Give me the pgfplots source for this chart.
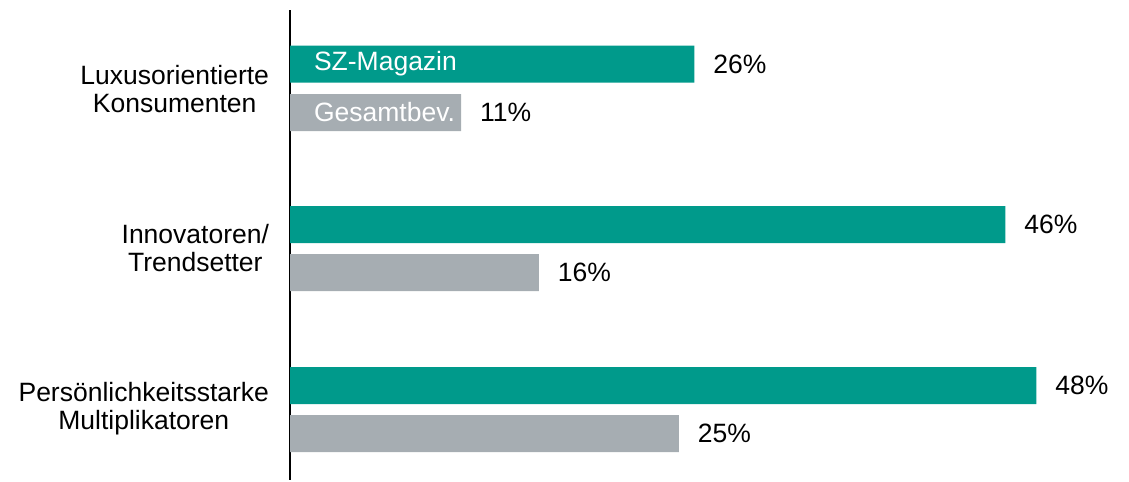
\documentclass[border=0pt]{standalone}
\usepackage{pgfplots}
\pgfplotsset{compat=1.18}
\usepackage{fontspec}
\setmainfont{Liberation Sans}
\definecolor{szteal}{HTML}{009A8B}
\definecolor{szgrey}{HTML}{A6ADB2}
\begin{document}
\fontsize{26.5bp}{28bp}\selectfont
\begin{tikzpicture}
\useasboundingbox (0,0) rectangle (1129bp,-482bp);
\begin{axis}[
  at={(290bp,-10bp)}, anchor=north west,
  scale only axis,
  width=839.7bp, height=470bp,
  xmin=0, xmax=54,
  ymin=10, ymax=480,
  y dir=reverse,
  axis x line=none,
  axis y line*=left,
  y axis line style={-, line width=1.2bp, black},
  ytick={89,248,409},
  yticklabels={{Luxusorientierte\\Konsumenten},{Innovatoren/\\Trendsetter},{Persönlichkeitsstarke\\Multiplikatoren}},
  yticklabel style={align=center, font=\fontsize{26.5bp}{28bp}\selectfont, xshift=-12bp},
  major tick length=0pt,
  /pgf/number format/assume math mode=true,
  clip=false,
  xbar, bar shift=0pt,
  bar width=37,
  point meta=x,
  nodes near coords={\pgfmathprintnumber{\pgfplotspointmeta}\%},
  nodes near coords style={anchor=west, xshift=10bp, font=\fontsize{26.5bp}{28bp}\selectfont, black},
]
\addplot[draw=none, fill=szteal] coordinates {(26,64) (46,224.5) (48,385.5)};
\addplot[draw=none, fill=szgrey] coordinates {(11,112.5) (16,272.5) (25,433.5)};
\node[anchor=west, white, xshift=15bp, font=\fontsize{26.5bp}{28bp}\selectfont] at (axis cs:0,64) {SZ-Magazin};
\node[anchor=west, white, xshift=15bp, font=\fontsize{26.5bp}{28bp}\selectfont] at (axis cs:0,112.5) {Gesamtbev.};
\end{axis}
\end{tikzpicture}
\end{document}
